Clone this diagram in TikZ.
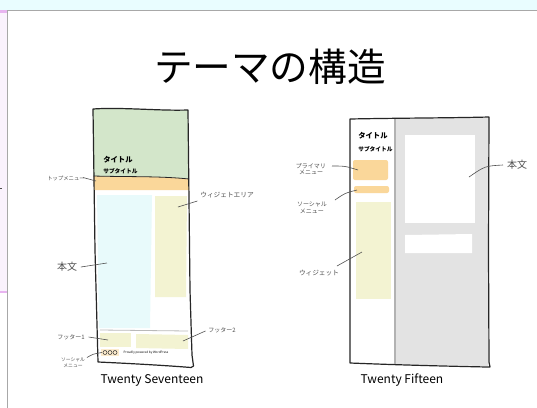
\documentclass[tikz,border=0pt]{standalone}
\usepackage{fontspec}
\newfontfamily\jp{Noto Sans CJK JP}
\definecolor{topstrip}{HTML}{E9FDFF}
\definecolor{pinkstrip}{HTML}{FAF2FD}
\definecolor{pinkedge}{HTML}{E8B4F0}
\definecolor{framegray}{HTML}{A8A8A8}
\definecolor{hgreen}{HTML}{D3E6CA}
\definecolor{horange}{HTML}{FAD79A}
\definecolor{hcyan}{HTML}{E8FAFB}
\definecolor{hyellow}{HTML}{F3F3D2}
\definecolor{hgray}{HTML}{E3E3E3}
\definecolor{inkgray}{HTML}{505050}
\tikzset{
  outline/.style={draw=black!85, line width=0.9pt, line join=round},
  note/.style={font=\jp\fontsize{4.5}{5}\selectfont, text=inkgray, inner sep=0.5pt, align=center},
  bignote/.style={font=\jp\fontsize{7.5}{8}\selectfont, text=inkgray, inner sep=0.5pt},
  pointer/.style={draw=inkgray, line width=0.45pt},
  titletext/.style={font=\jp\bfseries\fontsize{5.5}{6}\selectfont, text=black, inner sep=0pt, anchor=west},
  subtext/.style={font=\jp\bfseries\fontsize{4.3}{5}\selectfont, text=black, inner sep=0pt, anchor=west},
  themename/.style={font=\jp\fontsize{9}{10}\selectfont, text=black}
}
\begin{document}
\begin{tikzpicture}[x=0.75pt,y=-0.75pt]
\useasboundingbox (0,0) rectangle (537,408);
\fill[white] (0,0) rectangle (537,408);
% window frame
\fill[topstrip] (0,0) rectangle (537,9.5);
\fill[pinkstrip] (0,10) rectangle (7,293);
\fill[pinkedge] (0,10) rectangle (7,12.5);
\fill[pinkedge] (0,290.5) rectangle (7,293);
\draw[framegray, line width=1.4pt] (7.5,408) -- (7.5,10.5) -- (537,10.5);
\fill[black!70] (0,187.5) rectangle (2,189);

% title
\node[font=\jp\fontsize{29}{30}\selectfont] (title) at (270,67) {テーマの構造};

% ===== Twenty Seventeen =====
\fill[hgreen] (93,109) .. controls (120,107) and (160,111) .. (188,110) -- (189,179)
   .. controls (160,176) and (130,177) .. (93.5,176) -- cycle;
\fill[horange] (93.5,176) .. controls (130,177) and (160,176) .. (189,179) -- (189.3,190) -- (94,190) -- cycle;
\fill[hcyan] (97,195) -- (152,195) -- (150,328) -- (99,328) -- cycle;
\fill[hyellow] (155,196) -- (187,196) -- (186,297) -- (155,297) -- cycle;
\draw[gray!55, line width=0.6pt] (100,330) -- (188,331);
\fill[hyellow] (100,333) -- (131,333) -- (131,347) -- (100,347) -- cycle;
\fill[hyellow] (136,334) -- (188,335) -- (188,349) -- (136,348) -- cycle;
\fill[horange!50] (101,349) rectangle (119,356);
\foreach \cx in {105,110,115} \draw[black!80, line width=0.4pt] (\cx,352.5) circle (2);
\node[font=\jp\fontsize{2.3}{3}\selectfont, inner sep=0pt] (powered) at (146,353) {Proudly powered by WordPress};
\draw[black!85, line width=0.6pt] (93.5,176) .. controls (130,177) and (160,176) .. (189,179);
\draw[outline] (93,109) .. controls (120,107) and (160,111) .. (188,110)
   -- (190,290) -- (192,355) -- (193.5,366) -- (191,367.5)
   .. controls (160,365) and (120,363) .. (98,362) -- (95,250) -- cycle;

\node[titletext] (t17title) at (103,160) {タイトル};
\node[subtext] (t17sub) at (103,171) {サブタイトル};

\node[note, font=\jp\fontsize{4}{5}\selectfont] (topmenu) at (66,178) {トップメニュー};
\coordinate (topmenuP) at (96,181);
\draw[pointer] (83,177.5) -- (topmenuP);

\node[note, font=\jp\fontsize{5}{6}\selectfont] (widgetarea) at (227,195) {ウィジェトエリア};
\coordinate (widgetareaP) at (178,207);
\draw[pointer] (widgetarea.west) ++(-2,6) -- (widgetareaP);

\node[bignote] (honbun17) at (67,267) {本文};
\coordinate (honbun17P) at (107,263);
\draw[pointer] (honbun17.east) ++(3,0) -- (honbun17P);

\node[note] (footer1) at (71,337) {フッター1};
\coordinate (footer1P) at (108,340);
\draw[pointer] (footer1.east) ++(3,0) -- (footer1P);

\node[note] (footer2) at (222,330) {フッター2};
\coordinate (footer2P) at (183,341);
\draw[pointer] (footer2.west) ++(-2,1) -- (footer2P);

\node[note, font=\jp\fontsize{3.6}{4.5}\selectfont] (social17) at (73,363) {ソーシャル\\メニュー};
\coordinate (social17P) at (102,352.5);
\draw[pointer] (87,357.5) .. controls (93,354) .. (social17P);

\node[themename] (t17) at (152,380) {Twenty Seventeen};

% ===== Twenty Fifteen =====
\fill[hgray] (395,119) -- (489,117.5) -- (488,366) -- (395,364.5) -- cycle;
\fill[white] (405,135) rectangle (475,223);
\fill[white] (405,235) -- (472,234) -- (472,253) -- (405,253) -- cycle;
\draw[gray!60, line width=0.8pt] (395,119) -- (395,364.5);
\fill[horange, rounded corners=1.5pt] (353,160) rectangle (388,180);
\fill[horange, rounded corners=1.5pt] (354,186) rectangle (389,193);
\fill[hyellow] (356,202) rectangle (391,298.5);
\draw[outline] (350,119) .. controls (400,118) and (450,118) .. (489,117)
   -- (488.5,250) -- (489,362) -- (490,367) -- (487,367)
   .. controls (440,366) and (400,365) .. (350,363) -- cycle;

\node[titletext] (t15title) at (358,136) {タイトル};
\node[subtext] (t15sub) at (358,149.5) {サブタイトル};

\node[note] (primary) at (311,169) {プライマリ\\メニュー};
\coordinate (primaryP) at (358,170);
\draw[pointer] (332,166) .. controls (345,166) .. (primaryP);

\node[note] (social15) at (312,208) {ソーシャル\\メニュー};
\coordinate (social15P) at (357,190);
\draw[pointer] (335,200) .. controls (345,193) .. (social15P);

\node[note, font=\jp\fontsize{5}{6}\selectfont] (widget15) at (319,273) {ウィジェット};
\coordinate (widget15P) at (362,252);
\draw[pointer] (337,266) -- (widget15P);

\node[bignote] (honbun15) at (517,165) {本文};
\coordinate (honbun15P) at (469,177);
\draw[pointer] (503,165) .. controls (485,166) .. (honbun15P);

\node[themename] (t15) at (402,380) {Twenty Fifteen};
\end{tikzpicture}
\end{document}
